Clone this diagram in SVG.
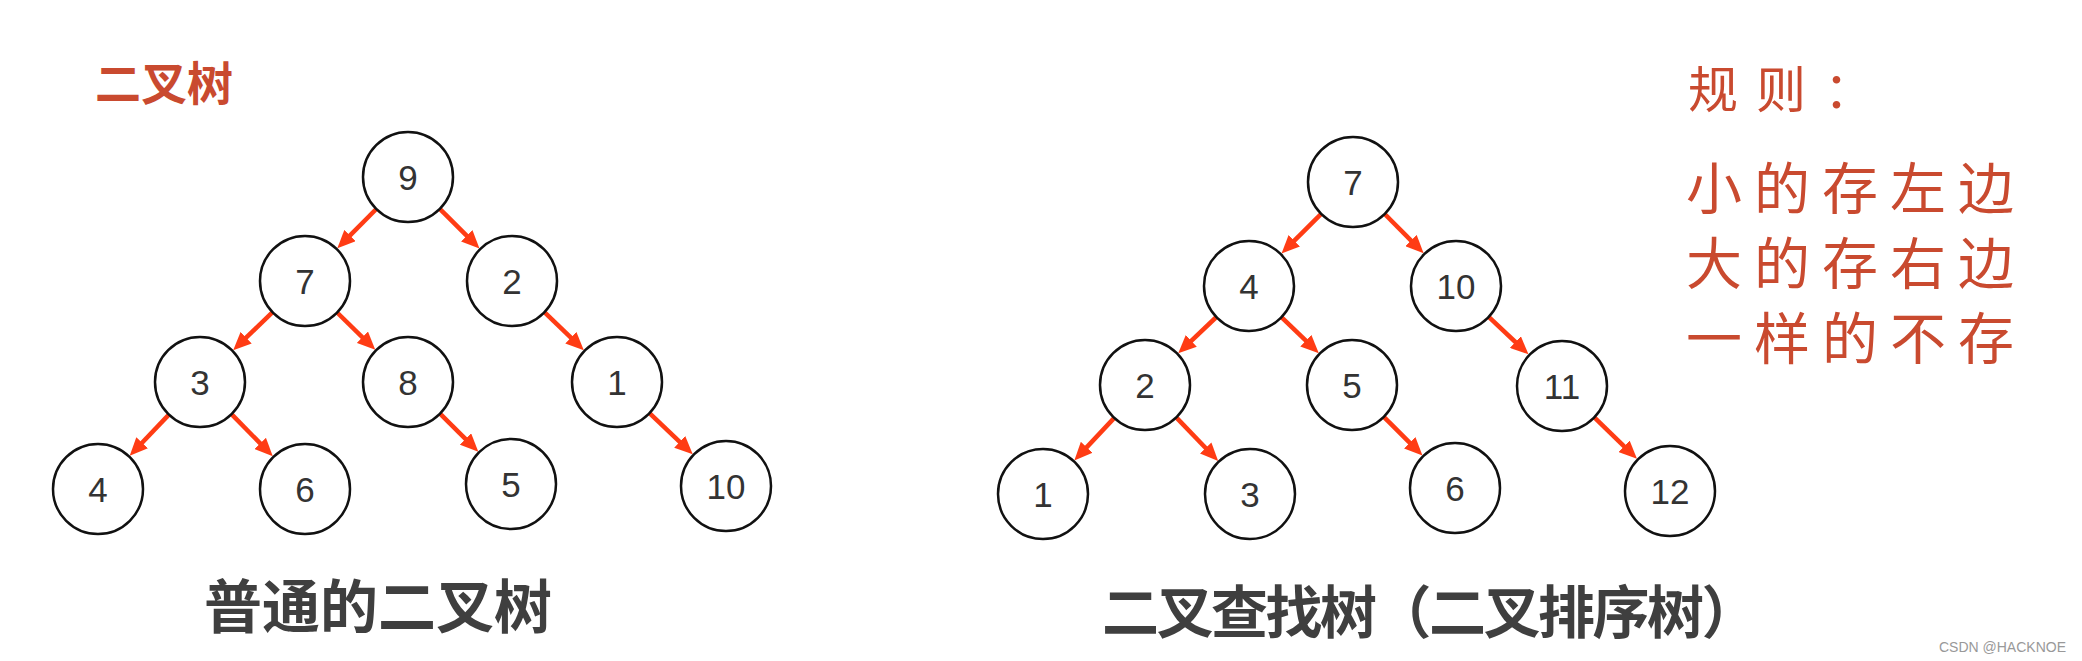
<svg xmlns="http://www.w3.org/2000/svg" width="2082" height="661" viewBox="0 0 2082 661">
<style>
.node circle{fill:#fff;stroke:#111;stroke-width:2.5}
.node text{font-family:"Liberation Sans",Arial,sans-serif;font-size:35px;fill:#333;text-anchor:middle}
.edge{stroke:#ff3c14;stroke-width:4.5;fill:none;marker-end:url(#ah)}
.title{font-family:"Noto Sans CJK SC",sans-serif;font-weight:bold;fill:#3f3f3f;text-anchor:middle}
.red{font-family:"Noto Sans CJK SC",sans-serif;fill:#c94a2f}
</style>
<defs>
<marker id="ah" markerUnits="userSpaceOnUse" markerWidth="18" markerHeight="16" viewBox="0 0 18 16" refX="8" refY="8" orient="auto">
<path d="M0,0 L18,8 L0,16 z" fill="#ff3c14"/>
</marker>
</defs>
<rect width="2082" height="661" fill="#fff"/>

<text class="red" x="95" y="100" font-size="46" font-weight="bold" fill="#c0452b">二叉树</text>

<g id="connectors">
<line class="edge" x1="376.3" y1="209" x2="344.4" y2="241.2"/>
<line class="edge" x1="439.8" y1="208.8" x2="472.4" y2="241.4"/>
<line class="edge" x1="272.6" y1="312.2" x2="240.4" y2="343.2"/>
<line class="edge" x1="337.1" y1="312.5" x2="368.1" y2="342.8"/>
<line class="edge" x1="544.4" y1="312.2" x2="576.6" y2="343.2"/>
<line class="edge" x1="168.9" y1="414.6" x2="136.6" y2="448.5"/>
<line class="edge" x1="231.5" y1="414.1" x2="265.8" y2="449.1"/>
<line class="edge" x1="440" y1="413.7" x2="471.2" y2="444.6"/>
<line class="edge" x1="649.5" y1="413.1" x2="685.5" y2="447.4"/>
<line class="edge" x1="1321.2" y1="213.8" x2="1288.6" y2="246.4"/>
<line class="edge" x1="1384.7" y1="214" x2="1416.6" y2="246.2"/>
<line class="edge" x1="1216.4" y1="317" x2="1185.5" y2="346.4"/>
<line class="edge" x1="1281.4" y1="317.2" x2="1311.6" y2="346.2"/>
<line class="edge" x1="1488.7" y1="316.9" x2="1521.2" y2="347.5"/>
<line class="edge" x1="1114.3" y1="417.9" x2="1081.2" y2="453.1"/>
<line class="edge" x1="1176.2" y1="417.4" x2="1211.2" y2="453.7"/>
<line class="edge" x1="1383.8" y1="416.8" x2="1415.4" y2="448.4"/>
<line class="edge" x1="1594.3" y1="417.4" x2="1629.8" y2="451.9"/>
</g>

<g id="L9" class="node"><circle cx="408" cy="177" r="45"/><text x="408" y="190">9</text></g>
<g id="L7" class="node"><circle cx="305" cy="281" r="45"/><text x="305" y="294">7</text></g>
<g id="L2" class="node"><circle cx="512" cy="281" r="45"/><text x="512" y="294">2</text></g>
<g id="L3" class="node"><circle cx="200" cy="382" r="45"/><text x="200" y="395">3</text></g>
<g id="L8" class="node"><circle cx="408" cy="382" r="45"/><text x="408" y="395">8</text></g>
<g id="L1" class="node"><circle cx="617" cy="382" r="45"/><text x="617" y="395">1</text></g>
<g id="L4" class="node"><circle cx="98" cy="489" r="45"/><text x="98" y="502">4</text></g>
<g id="L6" class="node"><circle cx="305" cy="489" r="45"/><text x="305" y="502">6</text></g>
<g id="L5" class="node"><circle cx="511" cy="484" r="45"/><text x="511" y="497">5</text></g>
<g id="L10" class="node"><circle cx="726" cy="486" r="45"/><text x="726" y="499">10</text></g>

<g id="R7" class="node"><circle cx="1353" cy="182" r="45"/><text x="1353" y="195">7</text></g>
<g id="R4" class="node"><circle cx="1249" cy="286" r="45"/><text x="1249" y="299">4</text></g>
<g id="R10" class="node"><circle cx="1456" cy="286" r="45"/><text x="1456" y="299">10</text></g>
<g id="R2" class="node"><circle cx="1145" cy="385" r="45"/><text x="1145" y="398">2</text></g>
<g id="R5" class="node"><circle cx="1352" cy="385" r="45"/><text x="1352" y="398">5</text></g>
<g id="R11" class="node"><circle cx="1562" cy="386" r="45"/><text x="1562" y="399">11</text></g>
<g id="R1" class="node"><circle cx="1043" cy="494" r="45"/><text x="1043" y="507">1</text></g>
<g id="R3" class="node"><circle cx="1250" cy="494" r="45"/><text x="1250" y="507">3</text></g>
<g id="R6" class="node"><circle cx="1455" cy="488" r="45"/><text x="1455" y="501">6</text></g>
<g id="R12" class="node"><circle cx="1670" cy="491" r="45"/><text x="1670" y="504">12</text></g>

<text class="title" x="378" y="628" font-size="58">普通的二叉树</text>
<text class="title" x="1429" y="633" font-size="57" letter-spacing="-2.5">二叉查找树（二叉排序树）</text>

<g id="rules">
<text class="red" x="1688" y="108" font-size="50" letter-spacing="18">规则：</text>
<text class="red" x="1686" y="209" font-size="56" letter-spacing="12">小的存左边</text>
<text class="red" x="1686" y="284" font-size="56" letter-spacing="12">大的存右边</text>
<text class="red" x="1686" y="359" font-size="56" letter-spacing="12">一样的不存</text>
</g>

<text x="2066" y="652" font-family="'Liberation Sans',Arial,sans-serif" font-size="14" fill="#999" text-anchor="end">CSDN @HACKNOE</text>
</svg>
